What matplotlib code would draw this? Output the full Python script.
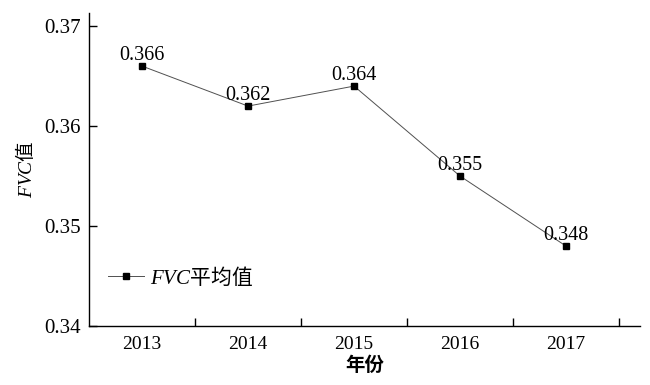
import matplotlib
matplotlib.use("Agg")
import matplotlib.pyplot as plt

years = ["2013", "2014", "2015", "2016", "2017"]
fvc_mean = [0.366, 0.362, 0.364, 0.355, 0.348]
value_labels = ["0.366", "0.362", "0.364", "0.355", "0.348"]
y_ticks = [0.34, 0.35, 0.36, 0.37]
y_ticklabels = ["0.34", "0.35", "0.36", "0.37"]

plt.rcParams["font.family"] = ["Liberation Serif", "Noto Sans CJK SC"]
plt.rcParams["mathtext.fontset"] = "custom"
plt.rcParams["mathtext.it"] = "Liberation Serif:italic"
plt.rcParams["mathtext.rm"] = "Liberation Serif"

CJK = "Noto Sans CJK SC"

fig = plt.figure(figsize=(6.5, 3.85), dpi=100)
ax = fig.add_axes([0.137, 0.153, 0.848, 0.813])

x = list(range(len(years)))
ax.plot(x, fvc_mean, color="#505050", lw=0.7, marker="s", markersize=5,
        markerfacecolor="black", markeredgecolor="black",
        label=r"$\mathit{FVC}$平均值")

for xi, yi, txt in zip(x, fvc_mean, value_labels):
    ax.annotate(txt, (xi, yi), xytext=(0, 4.5), textcoords="offset points",
                ha="center", va="baseline", fontsize=14.5)

ax.set_xlim(-0.5, 4.7)
ax.set_ylim(0.34, 0.3713)

ax.set_yticks(y_ticks, labels=y_ticklabels)
ax.set_xticks(x, labels=years)
ax.set_xticks([0.5, 1.5, 2.5, 3.5, 4.5], minor=True)
ax.tick_params(axis="y", direction="in", length=5.5, width=1.0, labelsize=15, pad=6)
ax.tick_params(axis="x", which="major", length=0, labelsize=14, pad=7)
ax.tick_params(axis="x", which="minor", direction="in", length=5.5, width=1.0)

for side in ("top", "right"):
    ax.spines[side].set_visible(False)
for side in ("left", "bottom"):
    ax.spines[side].set_linewidth(1.0)

ax.set_xlabel("年份", fontsize=14, family=CJK, fontweight="bold", labelpad=2)
ax.set_ylabel(r"$\mathit{FVC}$值", fontsize=14, family=CJK, labelpad=5)

ax.legend(loc="center left", bbox_to_anchor=(0.034, 0.157), frameon=False,
          borderaxespad=0, borderpad=0, handlelength=1.75, handletextpad=0.3,
          prop={"family": CJK, "size": 15})

fig.savefig("out.png", dpi=100)
